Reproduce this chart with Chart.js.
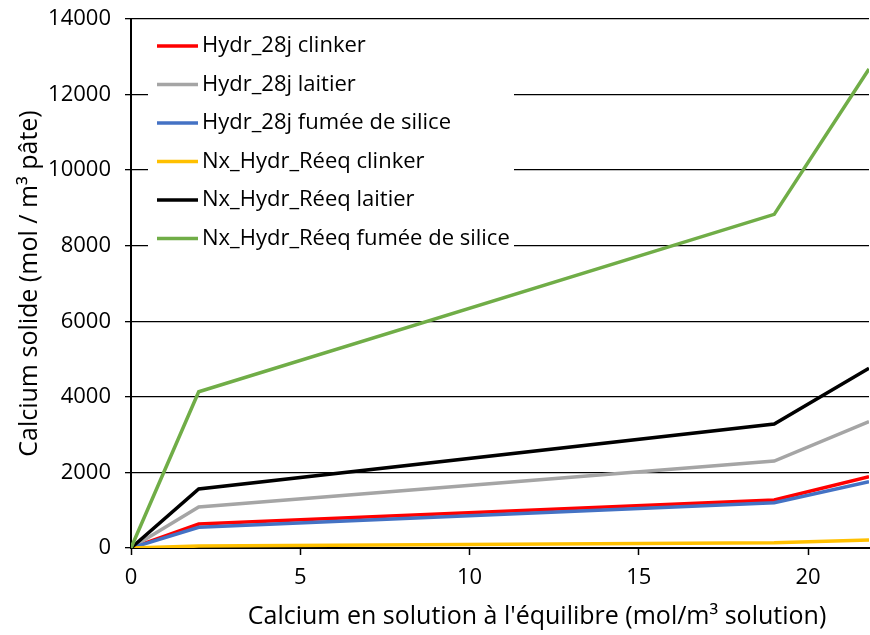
<!DOCTYPE html>
<html>
<head>
<meta charset="utf-8">
<script src="https://cdn.jsdelivr.net/npm/chart.js@4"></script>
<style>
  body { margin: 0; background: #fff; }
  #wrap { width: 870px; height: 635px; }
</style>
</head>
<body>
<div id="wrap"><canvas id="chartCalcium"></canvas></div>
<script>
var xValues = [0, 2, 19, 21.8]
var clinker28 = [0, 635, 1270, 1887]
var laitier28 = [0, 1085, 2302, 3342]
var fumee28 = [0, 548, 1199, 1755]
var clinkerReeq = [0, 50, 140, 212]
var laitierReeq = [0, 1561, 3281, 4755]
var fumeeReeq = [0, 4136, 8830, 12675]

var seriesLabels = [
  'Hydr_28j clinker',
  'Hydr_28j laitier',
  'Hydr_28j fumée de silice',
  'Nx_Hydr_Réeq clinker',
  'Nx_Hydr_Réeq laitier',
  'Nx_Hydr_Réeq fumée de silice'
]
var seriesValues = [clinker28, laitier28, fumee28, clinkerReeq, laitierReeq, fumeeReeq]
var seriesColors = ['#FF0000', '#A5A5A5', '#4472C4', '#FFC000', '#000000', '#70AD47']

var xTitle = "Calcium en solution à l'équilibre (mol/m³ solution)"
var yTitle = 'Calcium solide (mol / m³ pâte)'

var FONT = "'Open Sans', sans-serif"

var toPoints = function(values){
  return values.map(function(v, i){ return {x: xValues[i], y: v} })
}

var datasets = seriesValues.map(function(values, i){
  return {
    label: seriesLabels[i],
    data: toPoints(values),
    borderColor: seriesColors[i],
    backgroundColor: seriesColors[i],
    borderWidth: 3.5,
    pointRadius: 0,
    tension: 0,
    order: seriesValues.length - i
  }
})

// legend drawn inside the plot area, top-left, like the original
// x title drawn here too because it sits off-centre in the original
var insideLegend = {
  id: 'insideLegend',
  afterDraw: function(chart){
    var ctx = chart.ctx
    ctx.save()
    ctx.fillStyle = '#fff'
    ctx.fillRect(148, 25, 366, 232)
    ctx.font = '22px ' + FONT
    ctx.textBaseline = 'middle'
    seriesLabels.forEach(function(label, i){
      var y = 46 + i * 38.5
      ctx.strokeStyle = seriesColors[i]
      ctx.lineWidth = 3.5
      ctx.beginPath()
      ctx.moveTo(157, y)
      ctx.lineTo(198, y)
      ctx.stroke()
      ctx.fillStyle = '#000'
      ctx.fillText(label, 202, y)
    })
    ctx.font = '25px ' + FONT
    ctx.textAlign = 'center'
    ctx.fillText(xTitle, 537, 617)
    ctx.restore()
  }
}

var ctx = document.getElementById('chartCalcium')

var chartCalcium = new Chart(ctx, {
  type: 'line',
  data: { datasets: datasets },
  plugins: [insideLegend],
  options: {
    responsive: true,
    maintainAspectRatio: false,
    animation: false,
    layout: { padding: { top: 19, right: 1, left: 0, bottom: 0 } },
    plugins: {
      legend: { display: false },
      tooltip: { enabled: false }
    },
    scales: {
      x: {
        type: 'linear',
        min: 0,
        max: 21.8,
        afterFit: function(scale){ scale.height = 87 },
        border: { color: '#000', width: 2 },
        grid: { drawOnChartArea: false, drawTicks: true, tickLength: 7, tickColor: '#000', tickWidth: 1.5 },
        ticks: { stepSize: 5, includeBounds: false, color: '#000', padding: 10, font: { family: FONT, size: 22 } }
      },
      y: {
        min: 0,
        max: 14000,
        afterFit: function(scale){
          scale.width = 131
          scale.paddingTop = 0
          scale.paddingBottom = 0
        },
        border: { color: '#000', width: 2 },
        grid: { color: '#000', lineWidth: 1.3, tickLength: 6, tickColor: '#000' },
        ticks: {
          stepSize: 2000,
          color: '#000',
          padding: 14,
          font: { family: FONT, size: 22 },
          callback: function(value){ return String(value) }
        },
        title: {
          display: true,
          text: yTitle,
          color: '#000',
          font: { family: FONT, size: 25 },
          padding: { top: 15, bottom: 0 }
        }
      }
    }
  }
});
</script>
</body>
</html>
